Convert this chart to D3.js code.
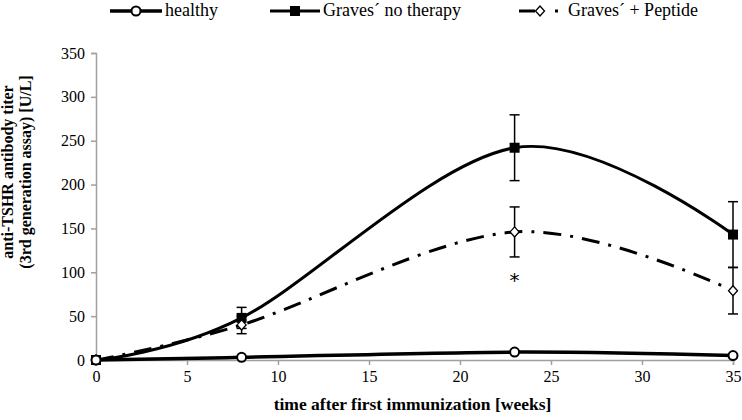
<!DOCTYPE html>
<html><head><meta charset="utf-8">
<script src="https://cdn.jsdelivr.net/npm/d3@7"></script>
<style>body{margin:0;background:#fff}svg{display:block}</style>
</head><body>
<svg id="c" width="742" height="420"></svg>
<script>
const weeks = [0, 8, 23, 35];
const healthy = [0, 3, 9, 5];
const gravesNoTherapy = [0, 48, 242, 143];
const gravesNoTherapyErr = [0, 12, 37.5, 37.5];
const gravesPeptide = [0, 40, 146, 79];
const gravesPeptideErr = [0, 10, 28.5, 26.5];
const yTicks = [0, 50, 100, 150, 200, 250, 300, 350];
const xTicks = [0, 5, 10, 15, 20, 25, 30, 35];
const seriesNames = ["healthy", "Graves´ no therapy", "Graves´ + Peptide"];
const xTitle = "time after first immunization [weeks]";
const yTitle = ["anti-TSHR antibody titer", "(3rd generation assay) [U/L]"];

const svg = d3.select("#c");
const x = d3.scaleLinear().domain([0, 35]).range([96, 733]);
const y = d3.scaleLinear().domain([0, 350]).range([360, 53]);
const font = "'Liberation Serif','Times New Roman',serif";
const axisCol = "#a0a0a0";

// axes
const yAxis = svg.append("g").attr("transform", `translate(${x(0)},0)`)
  .call(d3.axisLeft(y).tickValues(yTicks).tickSize(5).tickPadding(6));
const xAxis = svg.append("g").attr("transform", `translate(0,${y(0)})`)
  .call(d3.axisBottom(x).tickValues(xTicks).tickSize(5).tickPadding(6));
[yAxis, xAxis].forEach(a => {
  a.selectAll("path,line").attr("stroke", axisCol).attr("stroke-width", 1.5);
  a.selectAll("text").attr("font-family", font).attr("font-size", 16).attr("fill", "#000");
});

// titles
svg.append("text").attr("x", (x(0) + x(35)) / 2 - 2).attr("y", 410)
  .attr("text-anchor", "middle").attr("font-family", font).attr("font-weight", "bold")
  .attr("font-size", 17.5).text(xTitle);
yTitle.forEach((t, i) => {
  svg.append("text").attr("transform", `translate(${13 + i * 18},172) rotate(-90)`)
    .attr("text-anchor", "middle").attr("font-family", font).attr("font-weight", "bold")
    .attr("font-size", 16).text(t);
});

const line = d3.line().x(d => x(d[0])).y(d => y(d[1])).curve(d3.curveCatmullRom.alpha(0));
const pts = arr => weeks.map((w, i) => [w, arr[i]]);

// error bars
function errBars(vals, errs) {
  const g = svg.append("g").attr("stroke", "#000").attr("stroke-width", 1.5);
  weeks.forEach((w, i) => {
    if (!errs[i]) return;
    const cx = x(w), y1 = y(vals[i] - errs[i]), y2 = y(vals[i] + errs[i]);
    g.append("line").attr("x1", cx).attr("x2", cx).attr("y1", y1).attr("y2", y2);
    g.append("line").attr("x1", cx - 5).attr("x2", cx + 5).attr("y1", y1).attr("y2", y1);
    g.append("line").attr("x1", cx - 5).attr("x2", cx + 5).attr("y1", y2).attr("y2", y2);
  });
}
errBars(gravesNoTherapy, gravesNoTherapyErr);
errBars(gravesPeptide, gravesPeptideErr);

// lines
const dash = "18,9,3,9";
svg.append("path").attr("d", line(pts(healthy))).attr("fill", "none").attr("stroke", "#000").attr("stroke-width", 3.5);
svg.append("path").attr("d", line(pts(gravesNoTherapy))).attr("fill", "none").attr("stroke", "#000").attr("stroke-width", 3);
svg.append("path").attr("d", line(pts(gravesPeptide))).attr("fill", "none").attr("stroke", "#000").attr("stroke-width", 3).attr("stroke-dasharray", dash);

// markers
function circle(g, cx, cy) { g.append("circle").attr("cx", cx).attr("cy", cy).attr("r", 4.5).attr("fill", "#fff").attr("stroke", "#000").attr("stroke-width", 2); }
function square(g, cx, cy) { g.append("rect").attr("x", cx - 5).attr("y", cy - 5).attr("width", 10).attr("height", 10).attr("fill", "#000"); }
function diamond(g, cx, cy) { g.append("path").attr("d", `M${cx},${cy-5}L${cx+4.5},${cy}L${cx},${cy+5}L${cx-4.5},${cy}Z`).attr("fill", "#fff").attr("stroke", "#000").attr("stroke-width", 1.3); }
const mg = svg.append("g");
weeks.forEach((w, i) => square(mg, x(w), y(gravesNoTherapy[i])));
weeks.forEach((w, i) => diamond(mg, x(w), y(gravesPeptide[i])));
weeks.forEach((w, i) => circle(mg, x(w), y(healthy[i])));

// asterisk
svg.append("text").attr("x", x(23)).attr("y", y(92) + 8).attr("text-anchor", "middle")
  .attr("font-family", "'DejaVu Sans',sans-serif").attr("font-size", 20).text("*");

// legend
const lg = svg.append("g");
const ly = 11;
const lfs = 18;
lg.append("line").attr("x1", 110).attr("x2", 162).attr("y1", ly).attr("y2", ly).attr("stroke", "#000").attr("stroke-width", 3.5);
circle(lg, 136, ly);
lg.append("text").attr("x", 165).attr("y", ly + 5).attr("font-family", font).attr("font-size", lfs).text(seriesNames[0]);
lg.append("line").attr("x1", 270).attr("x2", 320).attr("y1", ly).attr("y2", ly).attr("stroke", "#000").attr("stroke-width", 3);
square(lg, 295, ly);
lg.append("text").attr("x", 323).attr("y", ly + 5).attr("font-family", font).attr("font-size", lfs).text(seriesNames[1]);
lg.append("line").attr("x1", 519).attr("x2", 560).attr("y1", ly).attr("y2", ly).attr("stroke", "#000").attr("stroke-width", 3).attr("stroke-dasharray", "16,20,3,20");
diamond(lg, 540, ly);
lg.append("text").attr("x", 568).attr("y", ly + 5).attr("font-family", font).attr("font-size", lfs).text(seriesNames[2]);
</script>
</body></html>
